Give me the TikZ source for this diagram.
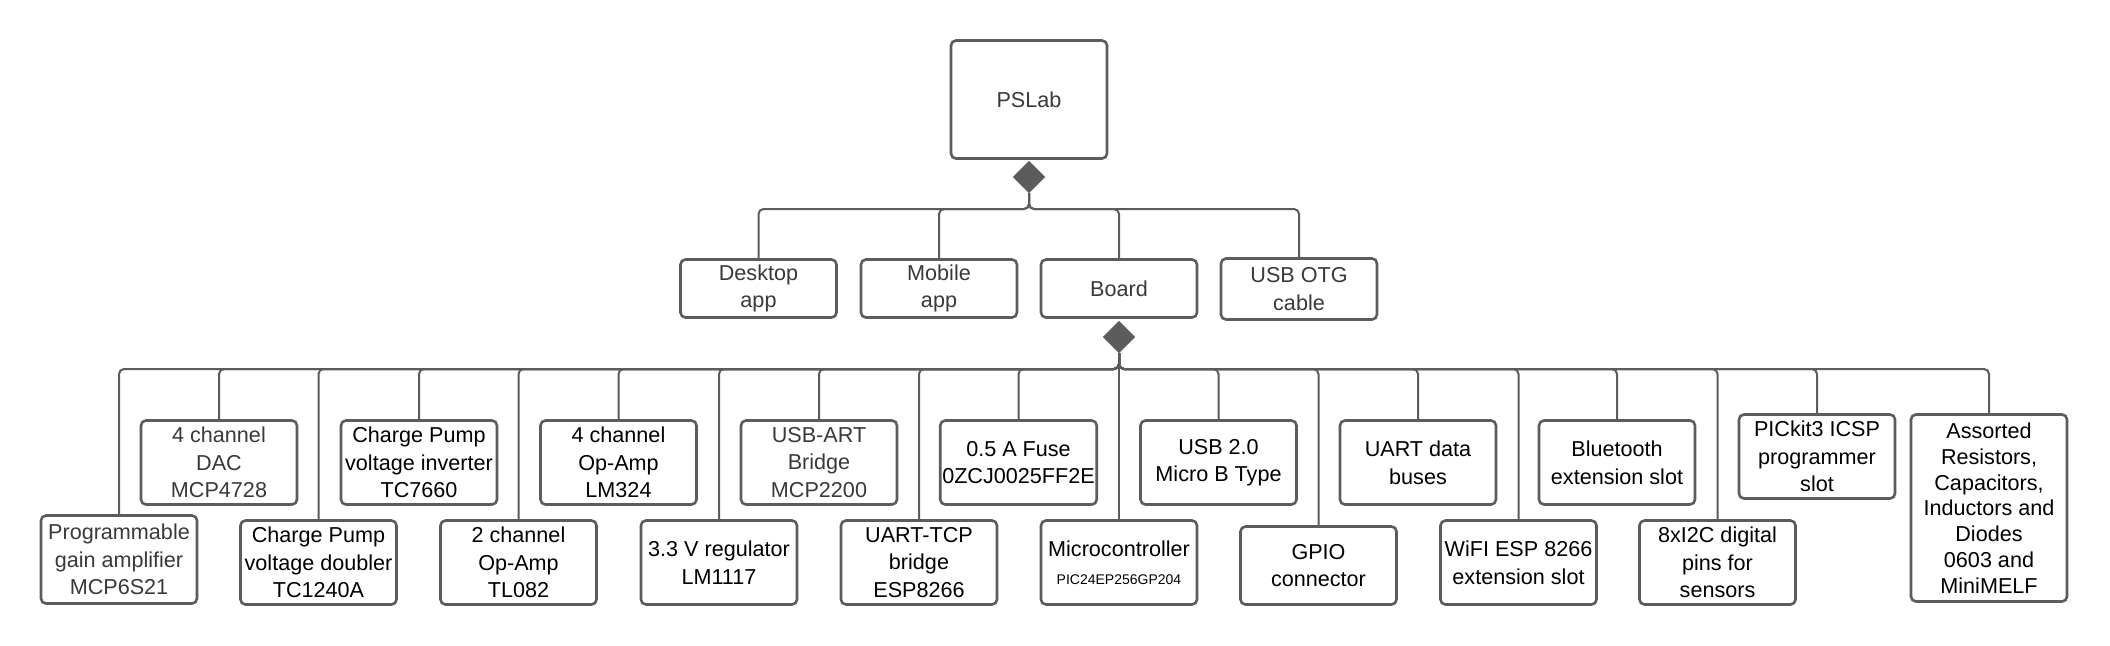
\documentclass[tikz,border=0pt]{standalone}
\usepackage{fontspec}
\setmainfont{Liberation Sans}
\usetikzlibrary{shapes.geometric}
\definecolor{edge}{HTML}{5C5C5C}
\definecolor{soft}{HTML}{393939}
\tikzset{
  part/.style={draw=edge, line width=1.3pt, rounded corners=2.5pt, minimum width=78pt,
    minimum height=42pt, align=center, inner sep=1pt, font=\fontsize{10.8}{13.8}\selectfont},
  joint/.style={diamond, draw=edge, fill=edge, line width=0.6pt, inner sep=0pt,
    minimum width=15.5pt, minimum height=15.5pt},
  link/.style={draw=edge, line width=1pt, rounded corners=2.5pt},
}
\begin{document}
\begin{tikzpicture}[x=0.5pt,y=-0.5pt]
\useasboundingbox[fill=white] (0,0) rectangle (2110,645);
% top level
\node[part, minimum height=59pt, text=soft] (pslab) at (1029,99.5) {PSLab};
\node[joint] (jtop) at (1029,177) {};
\coordinate (busA) at (1029,209);
\node[part, minimum height=29pt, text=soft] (desk) at (758.5,288.5) {Desktop\\app};
\node[part, minimum height=29pt, text=soft] (mob) at (939,288.5) {Mobile\\app};
\node[part, minimum height=29pt, text=soft] (board) at (1119,288.5) {Board};
\node[part, minimum height=30.5pt, text=soft] (otg) at (1299,289) {USB OTG\\cable};
\foreach \n in {desk,mob,board,otg}
  \draw[link] (jtop.south) -- (busA) -| (\n.north);
% board parts
\node[joint] (jboard) at (1119,337) {};
\coordinate (busB) at (1119,369);
\node[part, minimum height=44pt, text=soft] (pga) at (119,559.5) {Programmable\\gain amplifier\\MCP6S21};
\node[part, text=soft] (dac) at (219,462.5) {4 channel\\DAC\\MCP4728};
\node[part] (cpd) at (318.5,562.5) {Charge Pump\\voltage doubler\\TC1240A};
\node[part] (cpi) at (419,462.5) {Charge Pump\\voltage inverter\\TC7660};
\node[part] (opa2) at (518.5,562.5) {2 channel\\Op-Amp\\TL082};
\node[part] (opa4) at (618.5,462.5) {4 channel\\Op-Amp\\LM324};
\node[part] (reg) at (719,562.5) {3.3 V regulator\\LM1117};
\node[part, text=soft] (usbart) at (819,462.5) {USB-ART\\Bridge\\MCP2200};
\node[part] (tcp) at (919,562.5) {UART-TCP\\bridge\\ESP8266};
\node[part] (fuse) at (1018.5,462.5) {0.5 A Fuse\\0ZCJ0025FF2E};
\node[part] (mcu) at (1119,562.5) {Microcontroller\\{\fontsize{7}{9}\selectfont PIC24EP256GP204}};
\node[part] (usb) at (1218.5,462.5) {USB 2.0\\Micro B Type};
\node[part, minimum height=39pt] (gpio) at (1318.5,565.5) {GPIO\\connector};
\node[part] (uart) at (1418,462.5) {UART data\\buses};
\node[part] (wifi) at (1518.5,562.5) {WiFI ESP 8266\\extension slot};
\node[part] (bt) at (1617,462.5) {Bluetooth\\extension slot};
\node[part] (i2c) at (1717.5,562.5) {8xI2C digital\\pins for\\sensors};
\node[part] (pickit) at (1817,456.5) {PICkit3 ICSP\\programmer\\slot};
\node[part, minimum height=93.5pt, font=\fontsize{10.8}{12.9}\selectfont] (misc) at (1989,508)
  {Assorted\\Resistors,\\Capacitors,\\Inductors and\\Diodes\\0603 and\\MiniMELF};
\foreach \n in {pga,dac,cpd,cpi,opa2,opa4,reg,usbart,tcp,fuse,mcu,usb,gpio,uart,wifi,bt,i2c,pickit,misc}
  \draw[link] (jboard.south) -- (busB) -| (\n.north);
\end{tikzpicture}
\end{document}
